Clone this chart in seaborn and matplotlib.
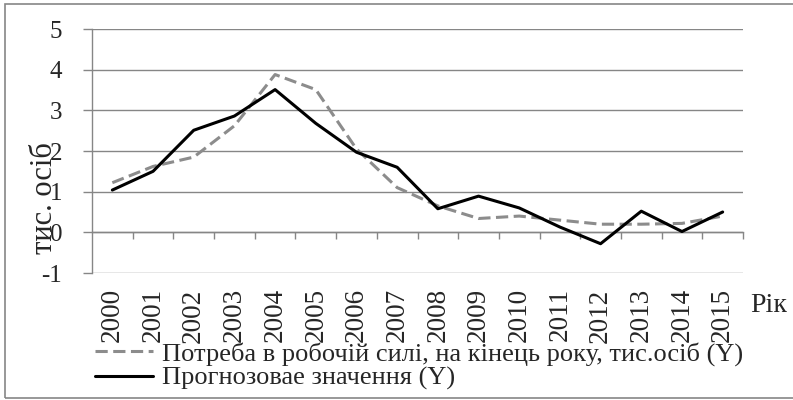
import numpy as np
import pandas as pd
import matplotlib
matplotlib.use("Agg")
import matplotlib.pyplot as plt
import seaborn as sns
from matplotlib.patches import Rectangle

# Data
years = ["2000", "2001", "2002", "2003", "2004", "2005", "2006", "2007",
         "2008", "2009", "2010", "2011", "2012", "2013", "2014", "2015"]
actual = [1.22, 1.62, 1.85, 2.62, 3.88, 3.51, 2.05, 1.1,
          0.65, 0.34, 0.4, 0.3, 0.2, 0.2, 0.22, 0.4]
forecast = [1.04, 1.5, 2.51, 2.86, 3.51, 2.68, 1.97, 1.6,
            0.58, 0.89, 0.6, 0.13, -0.28, 0.52, 0.02, 0.5]

label_actual = "Потреба в робочій силі, на кінець року, тис.осіб (Y)"
label_forecast = "Прогнозовае значення (Y)"

GRID = "#868686"
SERIF = ["Liberation Serif", "DejaVu Serif"]


def main():
    sns.set_theme(style="white")
    plt.rcParams["font.family"] = SERIF

    df = pd.DataFrame({"pos": np.arange(len(years)),
                       "actual": actual, "forecast": forecast})

    fig = plt.figure(figsize=(7.93, 4.0), dpi=100)
    ax = fig.add_axes([92 / 793, 1 - 273 / 400, 651 / 793, 244 / 400])

    sns.lineplot(data=df, x="pos", y="actual", ax=ax, color="#8c8c8c",
                 linewidth=2.2, linestyle=(0, (4, 1.8)), label=label_actual)
    sns.lineplot(data=df, x="pos", y="forecast", ax=ax, color="black",
                 linewidth=2.2, label=label_forecast)

    ax.set_xlim(-0.5, len(years) - 0.5)
    ax.set_ylim(-1, 5)
    ax.set_yticks(range(-1, 6))
    ax.set_yticklabels([str(v) for v in range(-1, 6)], fontsize=18)
    ax.set_xticks(range(len(years)))
    ax.set_xticklabels(years, rotation=90, fontsize=19.5)
    ax.tick_params(axis="x", length=0, pad=11)
    ax.tick_params(axis="y", length=6.5, width=1, color=GRID, pad=15,
                   left=True)

    ax.grid(axis="y", color=GRID, linewidth=1)
    for side in ["top", "right", "bottom"]:
        ax.spines[side].set_visible(False)
    ax.spines["left"].set_color(GRID)
    ax.spines["left"].set_linewidth(1)

    # category axis crossing at y = 0, tick marks between categories
    sec = ax.secondary_xaxis(1 / 6)
    sec.set_xticks(np.arange(0.5, len(years) + 0.5, 1.0))
    sec.set_xticklabels([])
    sec.tick_params(axis="x", length=5, width=1, color=GRID, direction="out")
    sec.spines["bottom"].set_color(GRID)
    sec.spines["bottom"].set_linewidth(1)

    ax.set_ylabel("тис. осіб", fontsize=22, family=SERIF, va="center")
    ax.yaxis.set_label_coords(-0.0737, 0.307)
    ax.set_xlabel("Рік", fontsize=20, family=SERIF, va="baseline")
    ax.xaxis.set_label_coords(1.040, -0.16)

    ax.get_legend().remove()
    handles, labels = ax.get_legend_handles_labels()
    fig.legend(handles, labels, loc="upper left",
               bbox_to_anchor=(95 / 793, 1 - 342 / 400), frameon=False,
               fontsize=19, handlelength=2.2, handletextpad=0.34,
               labelspacing=0.02, borderaxespad=0, borderpad=0)

    # outer chart border (right edge falls outside the image)
    fig.patches.append(Rectangle((5 / 793, 1 - 398 / 400), 800 / 793, 394 / 400,
                                 transform=fig.transFigure, fill=False,
                                 edgecolor=GRID, linewidth=1.2))

    fig.savefig("out.png", dpi=100)


if __name__ == "__main__":
    main()
